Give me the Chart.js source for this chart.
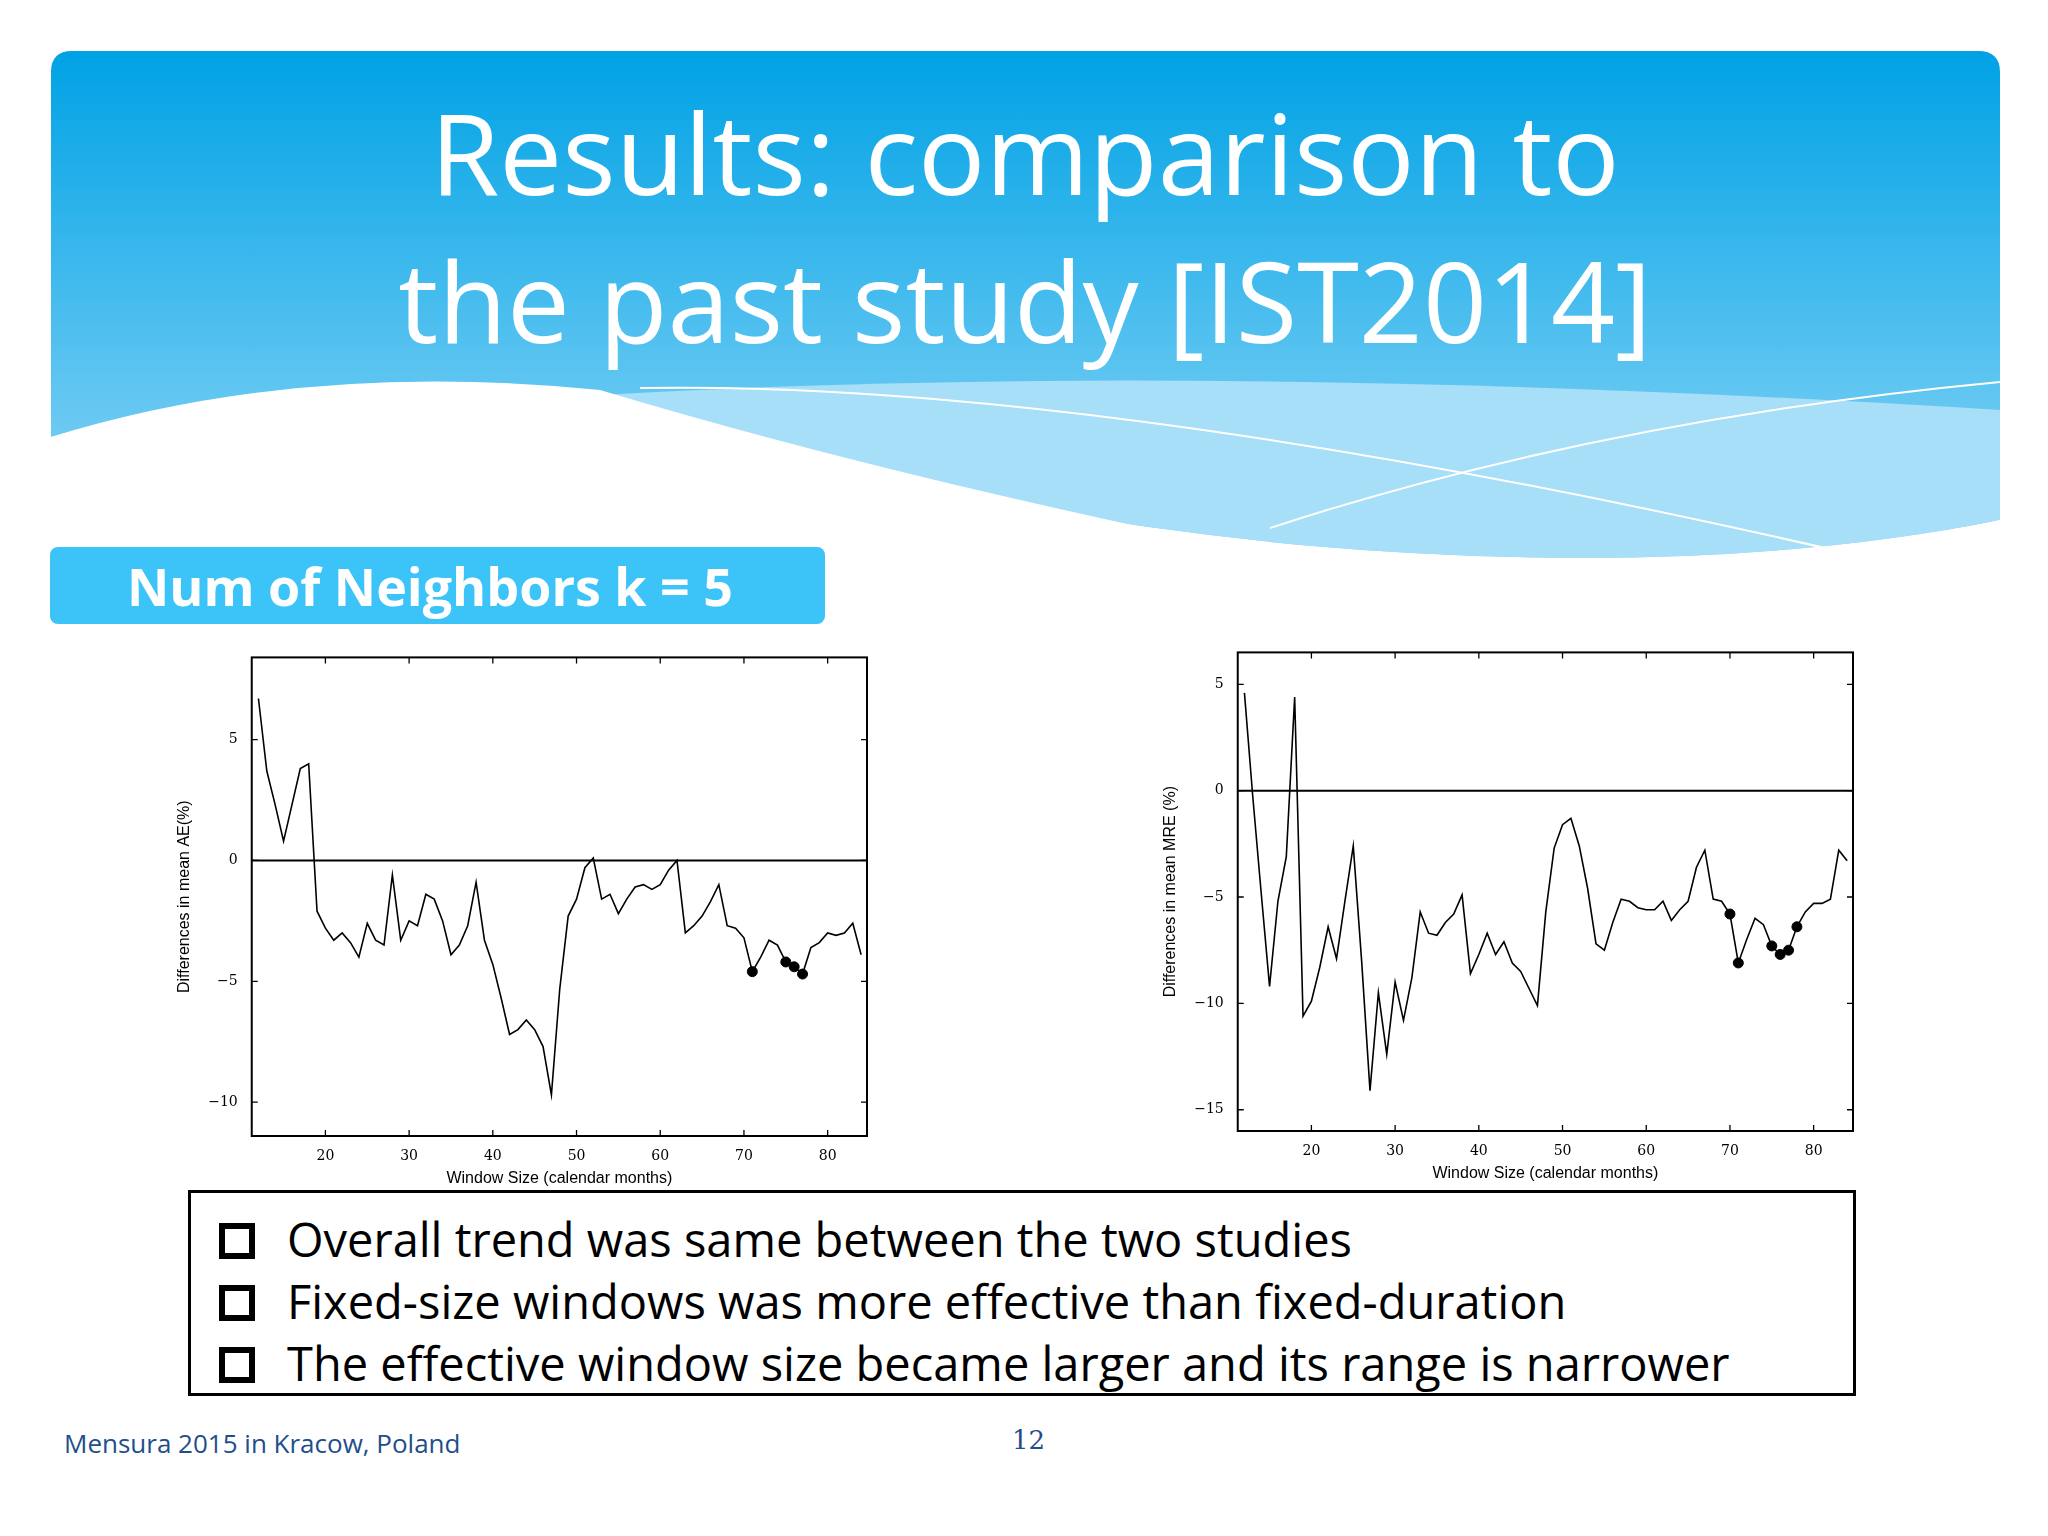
<!DOCTYPE html>
<html>
<head>
<meta charset="utf-8">
<script src="https://cdn.jsdelivr.net/npm/chart.js@4.4.0/dist/chart.umd.min.js"></script>
<style>
  body { margin: 0; width: 2048px; height: 1536px; background: #fff; position: relative; overflow: hidden; font-family: "Open Sans", Lato, sans-serif; }
  #bg { position: absolute; left: 0; top: 0; }
  .title { position: absolute; left: 0; width: 2050px; text-align: center; color: #fff; font-size: 112px; line-height: 1; }
  #sub { position: absolute; left: 50px; top: 547px; width: 775px; height: 77px; background: #3cc3f8; border-radius: 8px; color: #fff; font-weight: bold; font-size: 52px; line-height: 77px; text-indent: 77px; }
  .chartbox { position: absolute; }
  #notes { position: absolute; left: 188px; top: 1190px; width: 1668px; height: 206px; border: 3px solid #000; box-sizing: border-box; font-size: 47px; }
  #notes div { position: absolute; left: 96px; white-space: nowrap; }
  #notes span { position: absolute; left: -68px; top: 16px; width: 24px; height: 24px; border: 6px solid #000; }
  #foot { position: absolute; left: 64px; top: 1425px; font-size: 26px; color: #1f4e8c; }
  #page { position: absolute; left: 1012px; top: 1425px; font-size: 26px; color: #1f4e8c; font-family: "DejaVu Serif", serif; }
</style>
</head>
<body>
<svg id="bg" width="2048" height="600">
  <defs>
    <linearGradient id="g" x1="0" y1="0" x2="0" y2="1">
      <stop offset="0" stop-color="#00a2e5"/>
      <stop offset="1" stop-color="#8fd7f7"/>
    </linearGradient>
  </defs>
  <path d="M51 72 Q51 51 72 51 L1978 51 Q2000 51 2000 72 L2000 520 Q1700 580 1300 545 Q900 505 600 400 Q300 370 51 437 Z" fill="url(#g)"/>
  <path d="M600 395 Q1200 360 2000 410 L2000 520 Q1700 580 1300 545 Q900 505 600 395 Z" fill="#a7def8"/>
  <path d="M51 437 Q300 360 600 390 Q900 480 1300 560 Q1700 590 2000 520 L2000 600 L51 600 Z" fill="#fff"/>
  <path d="M640 388 Q1100 380 1860 556" stroke="#fff" stroke-width="2" fill="none"/>
  <path d="M1270 528 Q1600 420 2000 382" stroke="#fff" stroke-width="2" fill="none"/>
</svg>
<div class="title" style="top:96px">Results: comparison to</div>
<div class="title" style="top:244px">the past study [IST2014]</div>
<div id="sub">Num of Neighbors k = 5</div>

<div class="chartbox" style="left:167px;top:643px;width:720px;height:545px"><canvas id="c1"></canvas></div>
<div class="chartbox" style="left:1153px;top:638px;width:720px;height:545px"><canvas id="c2"></canvas></div>

<div id="notes">
  <div style="top:14px"><span></span>Overall trend was same between the two studies</div>
  <div style="top:76px"><span></span>Fixed-size windows was more effective than fixed-duration</div>
  <div style="top:138px"><span></span>The effective window size became larger and its range is narrower</div>
</div>
<div id="foot">Mensura 2015 in Kracow, Poland</div>
<div id="page">12</div>

<script>
const windowSizes = [];
for (let w = 12; w <= 84; w++) windowSizes.push(w);

const aeDiff = [6.7, 3.7, 2.3, 0.8, 2.3, 3.8, 4.0, -2.1, -2.8, -3.3, -3.0, -3.4, -4.0, -2.6, -3.3, -3.5,
  -0.6, -3.3, -2.5, -2.7, -1.4, -1.6, -2.5, -3.9, -3.5, -2.7, -0.9, -3.3, -4.3, -5.7, -7.2, -7.0,
  -6.6, -7.0, -7.7, -9.7, -5.3, -2.3, -1.6, -0.3, 0.1, -1.6, -1.4, -2.2, -1.6, -1.1, -1.0, -1.2,
  -1.0, -0.4, 0.0, -3.0, -2.7, -2.3, -1.7, -1.0, -2.7, -2.8, -3.2, -4.6, -4.0, -3.3, -3.5, -4.2,
  -4.4, -4.7, -3.6, -3.4, -3.0, -3.1, -3.0, -2.6, -3.9];
const aeMarked = [71, 75, 76, 77];

const mreDiff = [4.6, -0.3, -4.8, -9.2, -5.2, -3.1, 4.4, -10.6, -9.9, -8.3, -6.4, -7.9, -5.2, -2.6,
  -8.0, -14.1, -9.5, -12.4, -9.0, -10.8, -8.8, -5.7, -6.7, -6.8, -6.2, -5.8, -4.9, -8.6, -7.7, -6.7,
  -7.7, -7.1, -8.1, -8.5, -9.3, -10.1, -5.7, -2.7, -1.6, -1.3, -2.6, -4.6, -7.2, -7.5, -6.2, -5.1,
  -5.2, -5.5, -5.6, -5.6, -5.2, -6.1, -5.6, -5.2, -3.6, -2.8, -5.1, -5.2, -5.8, -8.1, -7.0, -6.0,
  -6.3, -7.3, -7.7, -7.5, -6.4, -5.7, -5.3, -5.3, -5.1, -2.8, -3.3];
const mreMarked = [70, 71, 75, 76, 77, 78];

const xTicks = [20, 30, 40, 50, 60, 70, 80];

const framePlugin = {
  id: 'frame',
  afterDraw(chart) {
    const { ctx, chartArea: a, scales: { x, y } } = chart;
    ctx.save();
    ctx.strokeStyle = '#000';
    ctx.lineWidth = 2;
    ctx.strokeRect(a.left, a.top, a.right - a.left, a.bottom - a.top);
    ctx.lineWidth = 1.3;
    ctx.beginPath();
    x.ticks.forEach(t => {
      const px = x.getPixelForValue(t.value);
      ctx.moveTo(px, a.bottom); ctx.lineTo(px, a.bottom - 6);
      ctx.moveTo(px, a.top); ctx.lineTo(px, a.top + 6);
    });
    y.ticks.forEach(t => {
      const py = y.getPixelForValue(t.value);
      ctx.moveTo(a.left, py); ctx.lineTo(a.left + 6, py);
      ctx.moveTo(a.right, py); ctx.lineTo(a.right - 6, py);
    });
    ctx.stroke();
    const zy = y.getPixelForValue(0);
    ctx.lineWidth = 2;
    ctx.beginPath(); ctx.moveTo(a.left, zy); ctx.lineTo(a.right, zy); ctx.stroke();
    ctx.restore();
  }
};

function makeChart(id, values, marked, yMin, yMax, yTicks, yTitle) {
  const pts = windowSizes.map((w, i) => ({ x: w, y: values[i] }));
  const dots = pts.filter(p => marked.includes(p.x));
  new Chart(document.getElementById(id), {
    type: 'scatter',
    data: {
      datasets: [
        { data: pts, showLine: true, borderColor: '#000', borderWidth: 1.6, pointRadius: 0, tension: 0 },
        { data: dots, pointRadius: 5, backgroundColor: '#000', borderColor: '#000' }
      ]
    },
    options: {
      responsive: true, maintainAspectRatio: false, animation: false,
      layout: { padding: { top: 8, right: 20, bottom: 0, left: 0 } },
      plugins: { legend: { display: false }, tooltip: { enabled: false } },
      scales: {
        x: {
          type: 'linear', min: 11.2, max: 84.7,
          afterBuildTicks: s => { s.ticks = xTicks.map(v => ({ value: v })); },
          grid: { display: false },
          border: { display: false },
          ticks: { color: '#000', font: { family: 'DejaVu Serif', size: 14 }, padding: 4 },
          title: { display: true, text: 'Window Size (calendar months)', color: '#000', font: { family: 'Liberation Sans', size: 16 }, padding: 0 }
        },
        y: {
          min: yMin, max: yMax,
          afterBuildTicks: s => { s.ticks = yTicks.map(v => ({ value: v })); },
          grid: { display: false },
          border: { display: false },
          ticks: { color: '#000', font: { family: 'DejaVu Serif', size: 14 }, padding: 6,
            callback: v => String(v).replace('-', '\u2212') },
          title: { display: true, text: yTitle, color: '#000', font: { family: 'Liberation Sans', size: 16 }, padding: 8 }
        }
      }
    },
    plugins: [framePlugin]
  });
}

makeChart('c1', aeDiff, aeMarked, -11.4, 8.4, [5, 0, -5, -10], 'Differences in mean AE(%)');
makeChart('c2', mreDiff, mreMarked, -16, 6.5, [5, 0, -5, -10, -15], 'Differences in mean MRE (%)');
</script>
</body>
</html>
